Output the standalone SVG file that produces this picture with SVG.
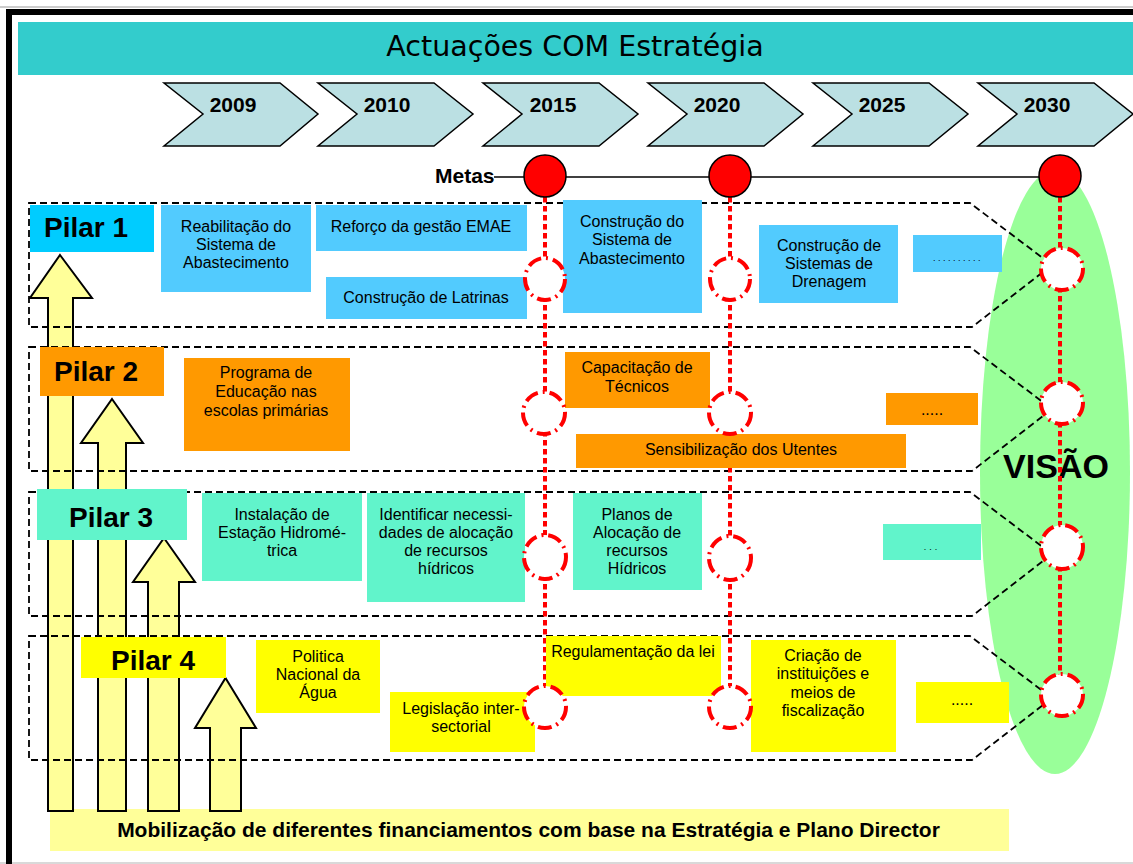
<svg xmlns="http://www.w3.org/2000/svg" width="1133" height="864" viewBox="0 0 1133 864">
<style>
.t{font-family:"Liberation Sans",Arial,sans-serif;fill:#000}
.box{font-size:16px;text-anchor:middle}
.yr{font-size:21px;font-weight:bold;text-anchor:middle}
.pil{font-size:28px;font-weight:bold}
.chev{fill:#BBE0E3;stroke:#000;stroke-width:1.5}
.outline{fill:none;stroke:#000;stroke-width:1.8;stroke-dasharray:7,4}
.arrow{fill:#FFFF99;stroke:#000;stroke-width:2}
.dot{fill:none;stroke:#FF0000;stroke-width:4;stroke-dasharray:5.5,3.5}
.dc{fill:#fff;stroke:#FF0000;stroke-width:4;stroke-dasharray:14,5,2,5}
.meta{fill:#FF0000;stroke:#000;stroke-width:1.5}
.b1{fill:#52CBFE}
.b2{fill:#FF9900}
.b3{fill:#61F4CB}
.b4{fill:#FFFF00}
</style>
<rect width="1133" height="864" fill="#fff"/>
<!-- frame -->
<line x1="0" y1="7" x2="1133" y2="7" stroke="#999" stroke-width="1"/>
<line x1="0" y1="863" x2="1133" y2="863" stroke="#ccc" stroke-width="1.5"/>
<line x1="6" y1="12" x2="1133" y2="12" stroke="#000" stroke-width="6"/>
<line x1="9" y1="9" x2="9" y2="864" stroke="#000" stroke-width="6"/>

<!-- title -->
<g id="title">
<rect x="18" y="22" width="1115" height="53" fill="#33CCCC"/>
<text x="575" y="56" font-family="'DejaVu Sans',Verdana,sans-serif" font-size="28.5" text-anchor="middle" fill="#000">Actuações COM Estratégia</text>
</g>

<!-- timeline chevrons -->
<g id="years">
<g id="y2009"><polygon class="chev" points="164,83 280,83 318,114 280,146 164,146 203,114"/><text class="t yr" x="233" y="112">2009</text></g>
<g id="y2010"><polygon class="chev" points="318,83 434,83 473,114 434,146 318,146 357,114"/><text class="t yr" x="387" y="112">2010</text></g>
<g id="y2015"><polygon class="chev" points="483,83 599,83 638,114 599,146 483,146 522,114"/><text class="t yr" x="553" y="112">2015</text></g>
<g id="y2020"><polygon class="chev" points="648,83 764,83 803,114 764,146 648,146 687,114"/><text class="t yr" x="717" y="112">2020</text></g>
<g id="y2025"><polygon class="chev" points="813,83 929,83 968,114 929,146 813,146 852,114"/><text class="t yr" x="882" y="112">2025</text></g>
<g id="y2030"><polygon class="chev" points="978,83 1094,83 1133,114 1094,146 978,146 1017,114"/><text class="t yr" x="1047" y="112">2030</text></g>
</g>

<!-- vision ellipse -->
<g id="visao">
<ellipse cx="1055" cy="472" rx="75" ry="302" fill="#99FF99"/>
<text class="t" x="1056" y="478" font-size="34" font-weight="bold" text-anchor="middle">VISÃO</text>
</g>

<!-- bottom bar -->
<g id="financiamento">
<rect x="50" y="809" width="959" height="42" fill="#FFFF99"/>
<text class="t" x="528.5" y="837" font-size="21" font-weight="bold" text-anchor="middle">Mobilização de diferentes financiamentos com base na Estratégia e Plano Director</text>
</g>

<!-- arrows -->
<g id="arrows">
<polygon class="arrow" points="60,255 92,298 73,298 73,811 48,811 48,298 30,298"/>
<polygon class="arrow" points="112,399 143,443 126,443 126,811 98,811 98,443 81,443"/>
<polygon class="arrow" points="164,538 195,582 179,582 179,811 148,811 148,582 133,582"/>
<polygon class="arrow" points="225.5,678 256,728 241,728 241,811 210,811 210,728 195,728"/>
</g>

<!-- pillar outlines -->
<g id="outlines">
<path class="outline" d="M29 203 L970 203 L1052 265 L972 327 L29 327 Z"/>
<path class="outline" d="M29 347 L970 347 L1052 409 L972 471 L29 471 Z"/>
<path class="outline" d="M29 492 L970 492 L1052 554 L972 616 L29 616 Z"/>
<path class="outline" d="M29 636 L970 636 L1052 698 L972 760 L29 760 Z"/>
</g>

<!-- connectors -->
<g id="connectors">
<line x1="494" y1="177" x2="1060" y2="177" stroke="#000" stroke-width="1.5"/>
<line class="dot" x1="545" y1="197" x2="545" y2="707"/>
<line class="dot" x1="730" y1="197" x2="730" y2="707"/>
<line class="dot" x1="1060" y1="197" x2="1060" y2="695"/>
</g>

<text class="t" x="435" y="183" font-size="21" font-weight="bold">Metas</text>

<!-- Pilar 1 -->
<g id="pilar1">
<rect class="b1" x="30" y="205" width="124" height="47" style="fill:#00CCFF"/>
<text class="t pil" x="44" y="237">Pilar 1</text>
</g>
<g id="p1a"><rect class="b1" x="161" y="205" width="150" height="87"/>
<text class="t box" x="236"><tspan x="236" y="232">Reabilitação do</tspan><tspan x="236" y="250">Sistema de</tspan><tspan x="236" y="268">Abastecimento</tspan></text></g>
<g id="p1b"><rect class="b1" x="316" y="205" width="211" height="46"/>
<text class="t box" x="421" y="232">Reforço da gestão EMAE</text></g>
<g id="p1c"><rect class="b1" x="326" y="277" width="201" height="42"/>
<text class="t box" x="426" y="303">Construção de Latrinas</text></g>
<g id="p1d"><rect class="b1" x="563" y="200" width="139" height="113"/>
<text class="t box"><tspan x="632" y="227">Construção do</tspan><tspan x="632" y="245">Sistema de</tspan><tspan x="632" y="264">Abastecimento</tspan></text></g>
<g id="p1e"><rect class="b1" x="759" y="225" width="139" height="78"/>
<text class="t box"><tspan x="829" y="251">Construção de</tspan><tspan x="829" y="269">Sistemas de</tspan><tspan x="829" y="287">Drenagem</tspan></text></g>
<g id="p1f"><rect class="b1" x="913" y="235" width="89" height="37"/>
<text class="t" x="958" y="261" font-size="9" letter-spacing="2.5" text-anchor="middle" fill="#333">..........</text></g>

<!-- Pilar 2 -->
<g id="pilar2">
<rect class="b2" x="40" y="347" width="124" height="49"/>
<text class="t pil" x="54" y="381">Pilar 2</text>
</g>
<g id="p2a"><rect class="b2" x="184" y="358" width="166" height="93"/>
<text class="t box"><tspan x="266" y="378">Programa de</tspan><tspan x="266" y="397">Educação nas</tspan><tspan x="266" y="416">escolas primárias</tspan></text></g>
<g id="p2b"><rect class="b2" x="565" y="352" width="145" height="56"/>
<text class="t box"><tspan x="637" y="373">Capacitação de</tspan><tspan x="637" y="392">Técnicos</tspan></text></g>
<g id="p2c"><rect class="b2" x="886" y="393" width="92" height="32"/>
<text class="t box" x="932" y="415">.....</text></g>
<g id="p2d"><rect class="b2" x="576" y="434" width="330" height="34"/>
<text class="t box" x="741" y="455">Sensibilização dos Utentes</text></g>

<!-- Pilar 3 -->
<g id="pilar3">
<rect class="b3" x="37" y="489" width="150" height="51"/>
<text class="t pil" x="69" y="527">Pilar 3</text>
</g>
<g id="p3a"><rect class="b3" x="202" y="493" width="160" height="88"/>
<text class="t box"><tspan x="282" y="520">Instalação de</tspan><tspan x="282" y="538">Estação Hidromé-</tspan><tspan x="282" y="556">trica</tspan></text></g>
<g id="p3b"><rect class="b3" x="367" y="493" width="158" height="109"/>
<text class="t box"><tspan x="446" y="520">Identificar necessi-</tspan><tspan x="446" y="538">dades de alocação</tspan><tspan x="446" y="556">de recursos</tspan><tspan x="446" y="574">hídricos</tspan></text></g>
<g id="p3c"><rect class="b3" x="573" y="493" width="129" height="97"/>
<text class="t box"><tspan x="637" y="520">Planos de</tspan><tspan x="637" y="538">Alocação de</tspan><tspan x="637" y="556">recursos</tspan><tspan x="637" y="574">Hídricos</tspan></text></g>
<g id="p3d"><rect class="b3" x="883" y="524" width="98" height="36"/>
<text class="t" x="932" y="550" font-size="9" letter-spacing="3" text-anchor="middle" fill="#333">...</text></g>

<!-- Pilar 4 -->
<g id="pilar4">
<rect class="b4" x="81" y="637" width="145" height="41"/>
<text class="t pil" x="111" y="670">Pilar 4</text>
</g>
<g id="p4a"><rect class="b4" x="256" y="640" width="124" height="73"/>
<text class="t box"><tspan x="318" y="662">Politica</tspan><tspan x="318" y="680">Nacional da</tspan><tspan x="318" y="698">Água</tspan></text></g>
<g id="p4b"><rect class="b4" x="390" y="692" width="145" height="60"/>
<text class="t box"><tspan x="461" y="714">Legislação inter-</tspan><tspan x="461" y="732">sectorial</tspan></text></g>
<g id="p4c"><rect class="b4" x="546" y="636" width="175" height="60"/>
<text class="t box" x="633" y="657">Regulamentação da lei</text></g>
<g id="p4d"><rect class="b4" x="751" y="640" width="145" height="112"/>
<text class="t box"><tspan x="823" y="661">Criação de</tspan><tspan x="823" y="679">instituições e</tspan><tspan x="823" y="698">meios de</tspan><tspan x="823" y="716">fiscalização</tspan></text></g>
<g id="p4e"><rect class="b4" x="916" y="682" width="93" height="41"/>
<text class="t box" x="962" y="705">.....</text></g>

<!-- milestone circles -->
<g id="milestones">
<ellipse class="dc" cx="545" cy="279" rx="20" ry="21"/>
<ellipse class="dc" cx="730" cy="279" rx="20" ry="21"/>
<ellipse class="dc" cx="1062" cy="269" rx="21" ry="21"/>
<ellipse class="dc" cx="544" cy="413" rx="21" ry="21"/>
<ellipse class="dc" cx="730" cy="413" rx="21" ry="21"/>
<ellipse class="dc" cx="1062" cy="403" rx="21" ry="21"/>
<ellipse class="dc" cx="545" cy="557" rx="21" ry="22"/>
<ellipse class="dc" cx="730" cy="558" rx="21" ry="22"/>
<ellipse class="dc" cx="1062" cy="547" rx="21" ry="22"/>
<ellipse class="dc" cx="545" cy="707" rx="21" ry="21"/>
<ellipse class="dc" cx="730" cy="707" rx="21" ry="21"/>
<ellipse class="dc" cx="1062" cy="695" rx="21" ry="21"/>
</g>
<g id="metas">
<ellipse class="meta" cx="545" cy="176" rx="21" ry="21"/>
<ellipse class="meta" cx="730" cy="176" rx="21" ry="21"/>
<ellipse class="meta" cx="1060" cy="176" rx="21" ry="21"/>
</g>
</svg>
